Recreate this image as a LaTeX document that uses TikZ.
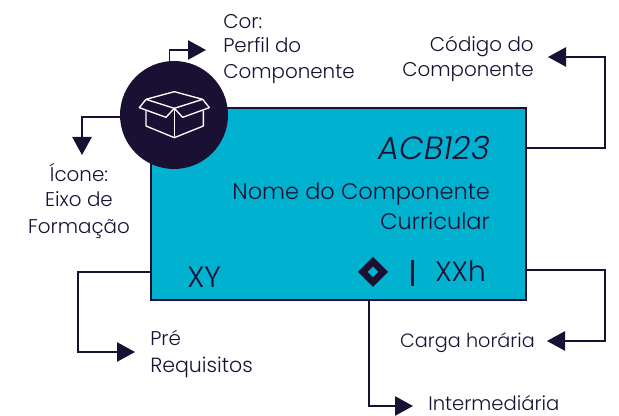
\documentclass[tikz,border=0pt]{standalone}
\usepackage{fontspec}
\setmainfont{Poppins Light}
\usetikzlibrary{arrows.meta}
\definecolor{ink}{HTML}{1A1033}
\definecolor{teal}{HTML}{00B2CF}
\begin{document}
\begin{tikzpicture}[x=0.75pt,y=-0.75pt,
  conn/.style={draw=ink,line width=1.1pt,-{Triangle[length=13.5pt,width=14.5pt]}},
  lab/.style={text=ink,font=\fontsize{14.9}{18}\selectfont,inner sep=0pt,align=left},
  cardtext/.style={text=ink,font=\fontsize{16.85}{22}\selectfont,inner sep=0pt}]
\useasboundingbox (0,0) rectangle (619,416);
\node[draw=ink,fill=teal,line width=1.8pt,minimum width=281pt,minimum height=144pt,inner sep=0pt,anchor=north west] (card) at (150,107) {};
\node[circle,fill=ink,minimum size=81pt,inner sep=0pt] (badge) at (174,115) {};
\begin{scope}[shift={(60,0)},x=0.25pt,y=-0.25pt,draw=white,line width=1pt,line join=round]
\draw (343,325)--(258,298)--(343,275)--(428,298)--(343,325);
\draw (258,298)--(238,323)--(318,352)--(343,325)--(368,352)--(448,323)--(428,298);
\draw (258,332)--(258,378)--(343,413)--(430,378)--(430,332);
\draw (343,325)--(343,413);
\end{scope}
\node[cardtext,anchor=base east,font=\fontsize{24}{26}\selectfont\itshape] (code) at (490,160) {ACB123};
\node[cardtext,anchor=base east] (name1) at (490,200) {Nome do Componente};
\node[cardtext,anchor=base east] (name2) at (490,230) {Curricular};
\node[cardtext,anchor=base west,font=\fontsize{22}{24}\selectfont] (xy) at (187,288) {XY};
\node[cardtext,anchor=base west,font=\fontsize{21}{24}\selectfont] (xxh) at (435,282) {XXh};
\draw[ink,even odd rule,fill=ink,draw=none] (358,272)--(373,257)--(388,272)--(373,287)--cycle (367.5,272)--(373,277.5)--(378.5,272)--(373,266.5)--cycle;
\draw[ink,line width=1.7pt] (412.5,260)--(412.5,286);
\node[lab,anchor=base west] (cor) at (223,29) {Cor:};
\node[lab,anchor=base west] (perfil) at (223,53) {Perfil do};
\node[lab,anchor=base west] (comp) at (223,79) {Componente};
\node[lab,anchor=base east] (cod1) at (534,52) {Código do};
\node[lab,anchor=base east] (cod2) at (534,77) {Componente};
\node[lab,anchor=base] (ic1) at (79,182) {Ícone:};
\node[lab,anchor=base] (ic2) at (79,207) {Eixo de};
\node[lab,anchor=base] (ic3) at (79,234) {Formação};
\node[lab,anchor=base west] (pre1) at (150,346) {Pré};
\node[lab,anchor=base west,font=\fontsize{15.4}{18}\selectfont] (pre2) at (150,373) {Requisitos};
\node[lab,anchor=base east,font=\fontsize{14.4}{18}\selectfont] (carga) at (535,348) {Carga horária};
\node[lab,anchor=base west,font=\fontsize{14.7}{18}\selectfont] (inter) at (428,411) {Intermediária};
\coordinate (tipcor) at (206,50);
\coordinate (tipic) at (82,155);
\coordinate (tipcod) at (548,57);
\coordinate (tipcarga) at (547,341);
\coordinate (tipinter) at (413,406);
\coordinate (tippre) at (135,352);
\draw[conn] (169.5,62) -- (169.5,50) -- (tipcor);
\draw[conn] (card.east |- 0,148) -- (605,148) -- (605,57) -- (tipcod);
\draw[conn] (card.east |- 0,270) -- (605,270) -- (605,341) -- (tipcarga);
\draw[conn] (369,300) -- (369,406) -- (tipinter);
\draw[conn] (150,272) -- (78,272) -- (78,352) -- (tippre);
\draw[conn] (121,117) -- (82,117) -- (tipic);
\end{tikzpicture}
\end{document}
